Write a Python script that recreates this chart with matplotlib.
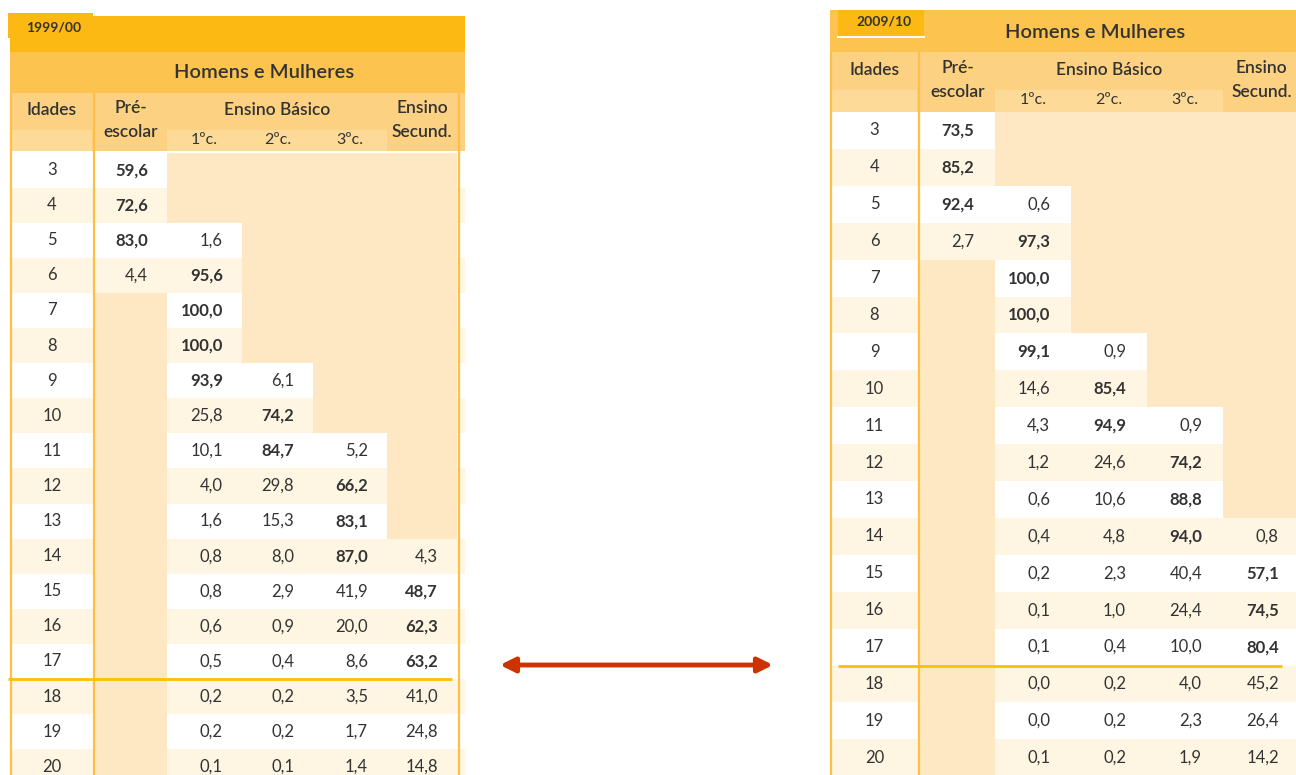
import matplotlib.pyplot as plt
from matplotlib.patches import Rectangle

# ==========================================
# DATA
# ==========================================
AGES = list(range(3, 21))

# 1999/00
L_PRE = [59.6, 72.6, 83.0, 4.4] + [None] * 14
L_C1 = [None, None, 1.6, 95.6, 100.0, 100.0, 93.9, 25.8, 10.1, 4.0, 1.6, 0.8, 0.8, 0.6, 0.5, 0.2, 0.2, 0.1]
L_C2 = [None] * 6 + [6.1, 74.2, 84.7, 29.8, 15.3, 8.0, 2.9, 0.9, 0.4, 0.2, 0.2, 0.1]
L_C3 = [None] * 8 + [5.2, 66.2, 83.1, 87.0, 41.9, 20.0, 8.6, 3.5, 1.7, 1.4]
L_SEC = [None] * 11 + [4.3, 48.7, 62.3, 63.2, 41.0, 24.8, 14.8]

# 2009/10
R_PRE = [73.5, 85.2, 92.4, 2.7] + [None] * 14
R_C1 = [None, None, 0.6, 97.3, 100.0, 100.0, 99.1, 14.6, 4.3, 1.2, 0.6, 0.4, 0.2, 0.1, 0.1, 0.0, 0.0, 0.1]
R_C2 = [None] * 6 + [0.9, 85.4, 94.9, 24.6, 10.6, 4.8, 2.3, 1.0, 0.4, 0.2, 0.2, 0.2]
R_C3 = [None] * 8 + [0.9, 74.2, 88.8, 94.0, 40.4, 24.4, 10.0, 4.0, 2.3, 1.9]
R_SEC = [None] * 11 + [0.8, 57.1, 74.5, 80.4, 45.2, 26.4, 14.2]

# ==========================================
# STYLE
# ==========================================
FONT = 'Lato'
TXT = '#333333'
C_TAB = '#FDB913'
C_BAND = '#FCC34E'
C_HEAD = '#FDD182'
C_SUB = '#FDDA98'
C_EMPTY = '#FEE8C3'
C_CREAM = '#FEF5E3'
C_LINE = '#FDBF45'
C_RULE = '#FFC000'

FS_VAL = 12
FS_HEAD = 12.5


def fmt(v):
    return f"{v:.1f}".replace('.', ',')


def draw_table(ax, cfg, cols):
    cx = cfg['cols']          # (x0, x1) for idades, pre, c1, c2, c3, sec
    top, pitch = cfg['row_top'], cfg['pitch']

    # header band(s)
    hx0, hx1 = cfg['x_range']
    ax.add_patch(Rectangle((hx0, cfg['band'][0]), hx1 - hx0, cfg['band'][1] - cfg['band'][0],
                           color=C_BAND, lw=0))
    if cfg.get('bar'):
        b0, b1 = cfg['bar']
        ax.add_patch(Rectangle((hx0, b0), hx1 - hx0, b1 - b0, color=C_TAB, lw=0))
    tx0, ty0, tx1, ty1 = cfg['tab']
    ax.add_patch(Rectangle((tx0, ty0), tx1 - tx0, ty1 - ty0, color=C_TAB, lw=0))
    if cfg.get('tab_underline'):
        ax.plot([tx0, tx1], [ty1, ty1], color='white', lw=1.5)
    ax.text(cfg['tab_text'][0], cfg['tab_text'][1], cfg['year'], fontsize=10, fontweight='bold',
            color=TXT, ha='center', va='center', family=FONT)
    ax.text(cfg['title_xy'][0], cfg['title_xy'][1], 'Homens e Mulheres', fontsize=14.5,
            fontweight='semibold', color=TXT, ha='center', va='center', family=FONT)

    # column header row
    h0, hs, h1 = cfg['head']
    ax.add_patch(Rectangle((hx0, h0), hx1 - hx0, h1 - h0, color=C_HEAD, lw=0))
    for i in (0, 2, 3, 4):
        ax.add_patch(Rectangle((cx[i][0], hs), cx[i][1] - cx[i][0], h1 - hs, color=C_SUB, lw=0))

    ly1, ly2 = cfg['label_y']
    mid = lambda i: (cx[i][0] + cx[i][1]) / 2
    kw = dict(fontsize=FS_HEAD, fontweight='semibold', color=TXT, ha='center', va='center',
              family=FONT)
    ax.text(mid(0), ly1, 'Idades', **kw)
    ax.text(mid(1), ly1 - 2, 'Pré-', **kw)
    ax.text(mid(1), ly2 - 8, 'escolar', **kw)
    ax.text(mid(3), ly1, 'Ensino Básico', **kw)
    for i, lab in zip((2, 3, 4), ('1ºc.', '2ºc.', '3ºc.')):
        ax.text(mid(i), ly2, lab, fontsize=11.5, color=TXT, ha='center', va='center', family=FONT)
    ax.text(mid(5), ly1 - 2, 'Ensino', **kw)
    ax.text(mid(5), ly2 - 8, 'Secund.', **kw)

    # body rows
    for r, age in enumerate(AGES):
        y0 = top + r * pitch
        yc = y0 + pitch / 2
        base = 'white' if r % 2 == 0 else C_CREAM
        ax.add_patch(Rectangle((hx0, y0), hx1 - hx0, pitch, color=base, lw=0))
        ax.text(mid(0), yc, str(age), fontsize=FS_VAL, color=TXT, ha='center', va='center',
                family=FONT)
        vals = [c[r] for c in cols]
        present = [v for v in vals if v is not None]
        vmax = max(present) if present else None
        for i, v in enumerate(vals):
            x0, x1 = cx[i + 1]
            if v is None:
                ax.add_patch(Rectangle((x0, y0), x1 - x0, pitch, color=C_EMPTY, lw=0))
                continue
            bold = age <= 17 and v == vmax
            ax.text(x1 - cfg['pad'], yc, fmt(v), fontsize=FS_VAL, color=TXT, ha='right',
                    va='center', fontweight='bold' if bold else 'normal', family=FONT)

    # lines
    for x in cfg['vlines']:
        ax.plot([x, x], [cfg['vline_top'], 775], color=C_LINE, lw=1.6, solid_capstyle='butt')
    y17 = top + (AGES.index(17) + 1) * pitch
    ax.plot(cfg['rule_x'], [y17, y17], color=C_RULE, lw=2, solid_capstyle='butt')


fig = plt.figure(figsize=(12.96, 7.75), dpi=100)
ax = fig.add_axes([0, 0, 1, 1])
ax.set_xlim(0, 1296)
ax.set_ylim(775, 0)
ax.axis('off')

left_cfg = {
    'year': '1999/00',
    'x_range': (10, 465),
    'bar': (16, 52),
    'band': (52, 93),
    'tab': (8, 13, 93, 38),
    'tab_text': (54, 27),
    'title_xy': (264, 73),
    'head': (93, 130, 151),
    'label_y': (110, 140),
    'cols': [(12, 92), (95, 167), (167, 242), (242, 313), (313, 387), (387, 457)],
    'row_top': 152.5,
    'pitch': 35.1,
    'pad': 19,
    'vlines': [11, 93.5, 459],
    'vline_top': 93,
    'rule_x': [8, 452],
}
right_cfg = {
    'year': '2009/10',
    'x_range': (830, 1296),
    'band': (10, 52),
    'tab': (838, 10, 924, 37),
    'tab_underline': True,
    'tab_text': (884, 22),
    'title_xy': (1095, 32),
    'head': (52, 90, 112),
    'label_y': (70, 100),
    'cols': [(832, 917), (920, 995), (995, 1071), (1071, 1147), (1147, 1223), (1223, 1300)],
    'row_top': 112,
    'pitch': 36.9,
    'pad': 21,
    'vlines': [831, 918.5],
    'vline_top': 52,
    'rule_x': [838, 1282],
}

draw_table(ax, left_cfg, [L_PRE, L_C1, L_C2, L_C3, L_SEC])
draw_table(ax, right_cfg, [R_PRE, R_C1, R_C2, R_C3, R_SEC])

ax.annotate('', xy=(773, 665), xytext=(500, 665),
            arrowprops=dict(arrowstyle='<|-|>', color='#CC3300', lw=3.5, mutation_scale=22,
                            shrinkA=0, shrinkB=0))

fig.savefig('out.png', dpi=100)
